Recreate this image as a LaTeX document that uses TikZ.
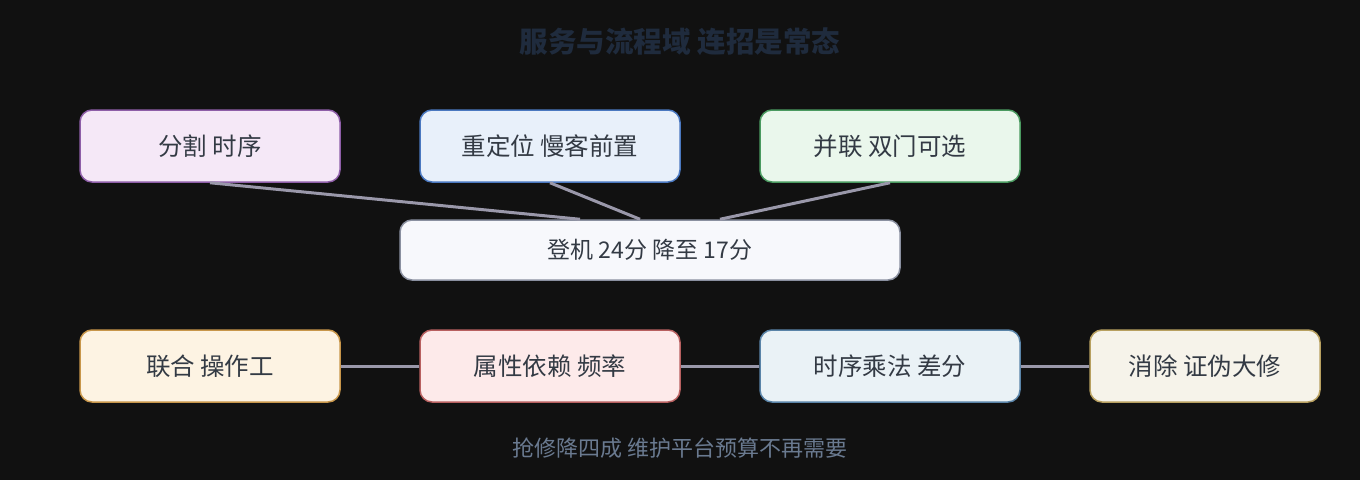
\documentclass[tikz,border=0pt]{standalone}
\usepackage{fontspec}
\setmainfont{Noto Sans CJK SC}
\definecolor{bg}{HTML}{111111}
\definecolor{txt}{HTML}{333A44}
\definecolor{edge}{HTML}{9A98AA}
\definecolor{ttl}{HTML}{1F2B3D}
\definecolor{foot}{HTML}{6A7A90}
\definecolor{fa}{HTML}{F5E8F7}\definecolor{la}{HTML}{8E5EA8}
\definecolor{fb}{HTML}{E8F0FA}\definecolor{lb}{HTML}{4A78C0}
\definecolor{fc}{HTML}{EAF7EC}\definecolor{lc}{HTML}{4A9A60}
\definecolor{fd}{HTML}{F7F8FC}\definecolor{ld}{HTML}{8A90A0}
\definecolor{fe}{HTML}{FDF3E3}\definecolor{le}{HTML}{C8964A}
\definecolor{ff}{HTML}{FDEAEA}\definecolor{lf}{HTML}{B86060}
\definecolor{fg}{HTML}{EAF2F6}\definecolor{lg}{HTML}{5A84A8}
\definecolor{fh}{HTML}{F6F3EA}\definecolor{lh}{HTML}{B8A060}
\tikzset{
  box/.style={draw, rounded corners=12pt, line width=1.5pt, inner sep=0pt, text=txt, font=\fontsize{24.5pt}{28pt}\selectfont, minimum width=260pt, minimum height=72pt},
  conn/.style={draw=edge, line width=3pt},
}
\begin{document}
\begin{tikzpicture}[x=1pt,y=-1pt]
\useasboundingbox[fill=bg] (0,0) rectangle (1360,480);
\node[font=\bfseries\fontsize{28.5pt}{32pt}\selectfont, text=ttl] (title) at (680,42) {服务与流程域 连招是常态};
\node[box, fill=fa, draw=la] (a) at (210,146) {分割 时序};
\node[box, fill=fb, draw=lb] (b) at (550,146) {重定位 慢客前置};
\node[box, fill=fc, draw=lc] (c) at (890,146) {并联 双门可选};
\node[box, fill=fd, draw=ld, minimum width=500pt, minimum height=60pt, font=\fontsize{23pt}{26pt}\selectfont] (d) at (650,250) {登机 24分 降至 17分};
\node[box, fill=fe, draw=le] (e) at (210,366) {联合 操作工};
\node[box, fill=ff, draw=lf] (f) at (550,366) {属性依赖 频率};
\node[box, fill=fg, draw=lg] (g) at (890,366) {时序乘法 差分};
\node[box, fill=fh, draw=lh, minimum width=230pt] (h) at (1205,366) {消除 证伪大修};
\node[font=\fontsize{22pt}{26pt}\selectfont, text=foot] (footer) at (680,448) {抢修降四成 维护平台预算不再需要};
\draw[conn] (a.south) -- ([xshift=-70pt]d.north);
\draw[conn] (b.south) -- ([xshift=-10pt]d.north);
\draw[conn] (c.south) -- ([xshift=70pt]d.north);
\draw[conn] (e.east) -- (f.west);
\draw[conn] (f.east) -- (g.west);
\draw[conn] (g.east) -- (h.west);
\end{tikzpicture}
\end{document}
